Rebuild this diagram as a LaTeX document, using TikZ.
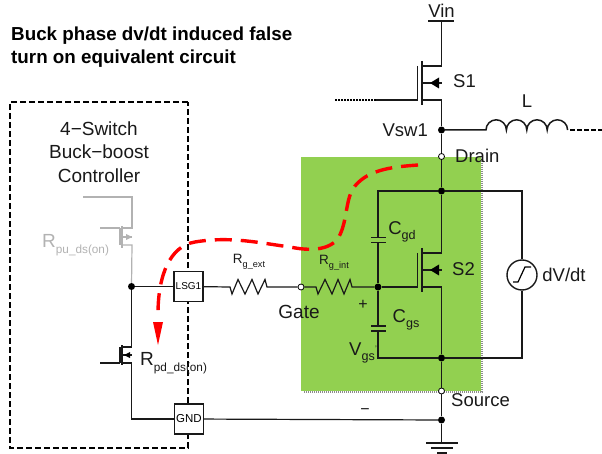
\documentclass[tikz,border=0pt]{standalone}
\usepackage{fontspec}
\setmainfont{Liberation Sans}
\definecolor{blockgreen}{RGB}{146,208,80}
\tikzset{
 wire/.style={line width=1.2pt,black!90},
 gwire/.style={line width=1.2pt,black!30},
 dot/.style={circle,fill=black,inner sep=0pt,minimum size=7pt},
 odot/.style={circle,draw=black,fill=white,line width=.8pt,inner sep=0pt,minimum size=6pt},
 pin/.style={draw=black!90,line width=1.2pt,fill=white,minimum width=29pt,minimum height=30pt,inner sep=0pt},
 lab/.style={inner sep=0pt,font=\fontsize{18.5}{18.5}\selectfont,text=black!90},
 redpath/.style={red,line width=3.4pt,dash pattern=on 17pt off 9pt},
}
\newcommand{\subl}[2]{#1\raisebox{-.3em}{\fontsize{.68em}{1em}\selectfont #2}}
\newcommand{\subm}[2]{#1\raisebox{-.3em}{\fontsize{.62em}{1em}\selectfont #2}}
\begin{document}
\begin{tikzpicture}[x=1pt,y=-1pt]
\useasboundingbox (0,0) rectangle (602,454);
% green block
\fill[blockgreen] (301,157) rectangle (481,391);
\draw[black!45,line width=2pt,dash pattern=on 1pt off 1pt] (482,159) -- (482,392) -- (303,392);
% title
\node[anchor=west,inner sep=0pt,font=\fontsize{18.8}{18.8}\bfseries\selectfont] (t1) at (11,36) {Buck phase dv/dt induced false};
\node[anchor=west,inner sep=0pt,font=\fontsize{18.8}{18.8}\bfseries\selectfont] (t2) at (11,59) {turn on equivalent circuit};
% controller
\draw[line width=1.5pt,dash pattern=on 6pt off 3pt,black] (188,102) -- (10,102) -- (10,448) -- (188,448) -- cycle;
\node[lab,align=center,font=\fontsize{19}{23.3}\selectfont] (ctl) at (99,152) {4−Switch\\Buck−boost\\Controller};
% nodes
\coordinate (top) at (441.5,21);
\node[dot] (nsw) at (441.5,130) {};
\node[odot] (drain) at (441.5,156.5) {};
\node[dot] (nd) at (441.5,191) {};
\node[dot] (ns) at (441.5,358) {};
\node[odot] (source) at (441.5,391) {};
\node[dot] (ng) at (441.5,420) {};
\node[dot] (ngate) at (378,287) {};
\node[odot] (gate) at (301,287) {};
\node[dot] (nl) at (131.5,286.5) {};
\node[pin,font=\fontsize{10}{10}\selectfont] (lsg) at (188.5,286.5) {LSG1};
\node[pin,font=\fontsize{11.5}{11.5}\selectfont] (gndp) at (189,419) {GND};
\node[circle,draw=black!90,line width=1.4pt,minimum size=30pt,inner sep=0pt] (src) at (522,275) {};
% Vin
\node[lab] (vin) at (441.5,11) {Vin};
\draw[wire] (428,21) -- (454,21);
\draw[wire] (top) -- (441.5,66) -- (422,66);
\draw[wire] (422,100) -- (441.5,100) -- (nsw) -- (drain) -- (nd) -- (441.5,253) -- (422,253);
\draw[wire] (422,287) -- (441.5,287) -- (ns) -- (source) -- (ng) -- (441.5,443);
% S1
\draw[wire,line width=1.3pt] (422,61) -- (422,105);
\draw[wire,line width=1.3pt] (417.7,66) -- (417.7,100);
\draw[wire] (422,83) -- (441.5,83);
\fill[black] (430,83) -- (439,77.5) -- (439,88.5) -- cycle;
\draw[wire] (417.7,100) -- (376,100);
\draw[line width=1.7pt,dash pattern=on 2pt off 1pt] (376,100) -- (335,100);
\node[lab] (s1) at (464.5,81) {S1};
\node[lab] (L) at (527,101) {L};
\node[anchor=east,lab] (vsw) at (428,130) {Vsw1};
% inductor
\draw[wire,line width=1.5pt] (nsw) -- (486,130)
  arc[start angle=180,delta angle=180,radius=10.2] arc[start angle=180,delta angle=180,radius=10.2]
  arc[start angle=180,delta angle=180,radius=10.2] arc[start angle=180,delta angle=180,radius=10.2];
\draw[line width=1.5pt,dash pattern=on 5pt off 2pt] (570,130) -- (602,130);
\node[anchor=west,lab] (dr) at (455,156) {Drain};
% rails
\draw[wire] (nd) -- (378,191) -- (378,238);
\draw[wire] (378,243) -- (ngate) -- (378,326);
\draw[wire] (378,331) -- (378,358) -- (ns);
\draw[wire] (nd) -- (522,191) -- (src);
\draw[wire] (src) -- (522,358) -- (ns);
\draw[wire,line width=1.5pt] (371,237.5) -- (386,237.5) (371,242.5) -- (386,242.5);
\draw[wire,line width=1.5pt] (371,326) -- (386,326) (371,331) -- (386,331);
\draw[line width=1.2pt] (513,282) -- (518,282) -- (525,267) -- (531,267);
% S2
\draw[wire,line width=1.3pt] (422,248) -- (422,292);
\draw[wire,line width=1.3pt] (417.7,253) -- (417.7,287);
\draw[wire] (422,270) -- (441.5,270);
\fill[black] (430,270) -- (439,264.5) -- (439,275.5) -- cycle;
\draw[wire] (ngate) -- (417.7,287);
\node[lab] (s2) at (463.5,269) {S2};
\node[lab] (dvdt) at (564,275) {dV/dt};
\node[lab] (cgd) at (402,232) {\subl{C}{gd}};
\node[lab] (cgs) at (406,320) {\subl{C}{gs}};
\node[lab,font=\fontsize{16}{16}\selectfont] (plus) at (363,305) {+};
\node[lab] (vgs) at (362,353) {\subl{V}{gs}};
\node[lab,font=\fontsize{8}{8}\selectfont] (q) at (376,349) {'};
\node[anchor=west,lab] (sr) at (451,400) {Source};
\node[lab,font=\fontsize{16}{16}\selectfont] (minus) at (365,412) {−};
% ground
\draw[wire] (426,443) -- (458,443);
\draw[wire,line width=1.5pt] (431,448) -- (453,448);
\draw[wire,line width=1.5pt] (437,453) -- (447,453);
% gate resistors
\draw[wire] (gate) -- (316,287) -- (318,294) -- (325,279.5) -- (332,294) -- (338,279.5) -- (344,294) -- (350,279.5) -- (352,287) -- (ngate);
\draw[wire] (lsg) -- (230,287) -- (232,294) -- (238,279.5) -- (245,294) -- (252,279.5) -- (258,294) -- (265,279.5) -- (267,287) -- (gate);
\node[lab,font=\fontsize{13.5}{13.5}\selectfont] (rgi) at (334,263) {\subl{R}{g\_int}};
\node[lab,font=\fontsize{13.5}{13.5}\selectfont] (rge) at (249,262) {\subl{R}{g\_ext}};
\node[lab,font=\fontsize{19}{19}\selectfont] (gl) at (299,312) {Gate};
% left wiring
\draw[wire] (nl) -- (lsg);
\draw[wire] (gndp) -- (ng);
\draw[wire] (gndp) -- (131.5,419) -- (131.5,363) -- (122,363);
\draw[wire] (nl) -- (131.5,347) -- (122,347);
\draw[wire,line width=1.3pt] (122,345) -- (122,365);
\draw[wire,line width=1.3pt] (120,347) -- (120,363);
\draw[wire] (122,355) -- (131.5,355);
\fill[black] (124,355) -- (130,352) -- (130,358) -- cycle;
\draw[wire] (100,363) -- (120,363);
\node[lab,anchor=west,font=\fontsize{19}{19}\selectfont] (rpd) at (140,363) {\subm{R}{pd\_ds(on)}};
% pull up
\draw[gwire] (83,197) -- (132,197) -- (132,228) -- (122,228);
\draw[gwire] (nl) -- (132,245) -- (122,245);
\draw[gwire] (122,226) -- (122,248);
\draw[gwire] (120,228) -- (120,245);
\draw[gwire] (122,237) -- (132,237);
\fill[black!30] (132,237) -- (126,234) -- (126,240) -- cycle;
\draw[gwire] (100,228) -- (120,228);
\node[lab,anchor=west,text=black!30,font=\fontsize{19}{19}\selectfont] (rpu) at (42,245) {\subm{R}{pu\_ds(on)}};
% current path
\draw[redpath] (418,165) .. controls (390,167) and (365,170) .. (352,190)
  .. controls (345,205) and (347,225) .. (337,240)
  .. controls (325,252) and (305,250) .. (290,247)
  .. controls (260,243) and (230,236) .. (195,242)
  .. controls (170,246) and (158,275) .. (158,314);
\fill[red] (158,345) -- (153,322) -- (163,322) -- cycle;
\end{tikzpicture}
\end{document}
